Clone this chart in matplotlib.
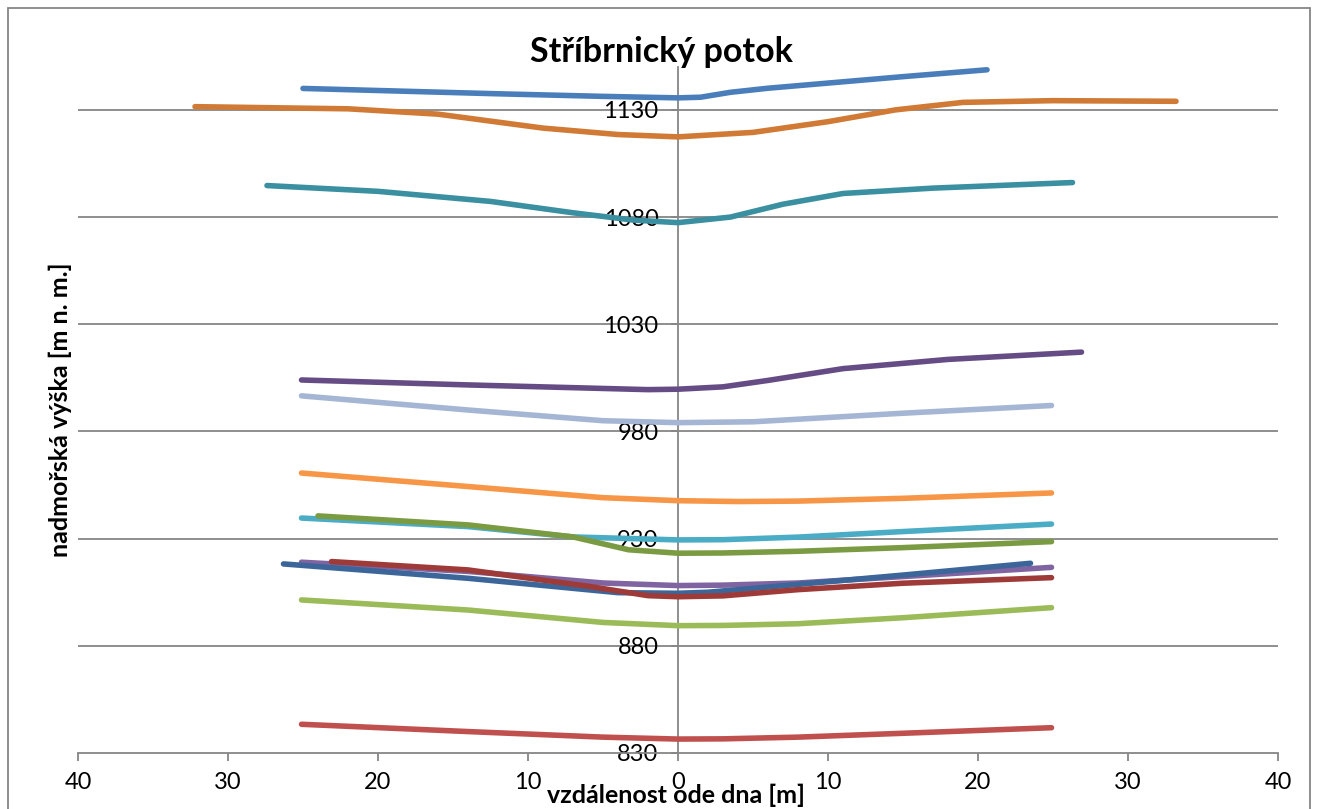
import matplotlib
matplotlib.use("Agg")
import matplotlib.pyplot as plt
from matplotlib.patches import Rectangle
from matplotlib.ticker import FuncFormatter

plt.rcParams['font.family'] = ['Lato', 'DejaVu Sans']

# cross-section profiles: distance from stream bed [m] vs elevation [m a.s.l.]
x1 = [-25, -12, -5, 0, 1.5, 3.5, 6, 10, 15, 20.6]
y1 = [1140, 1137.5, 1136.3, 1135.6, 1135.9, 1138.2, 1140.1, 1142.5, 1145.5, 1148.7]

x2 = [-25.1, -14, -5, 0, 3, 8, 15, 24.9]
y2 = [843.4, 840, 837.4, 836.5, 836.6, 837.4, 839.2, 841.8]

x3 = [-25.1, -14, -5, 0, 3, 8, 15, 24.9]
y3 = [901.4, 896.7, 890.9, 889.4, 889.5, 890.3, 893.1, 897.8]

x4 = [-25.1, -14, -5, 0, 3, 8, 15, 24.9]
y4 = [919, 914.7, 909.3, 908.1, 908.3, 909.3, 912.3, 916.6]

x5 = [-25.1, -14, -7, 0, 3, 8, 15, 24.9]
y5 = [939.6, 935.6, 930.8, 929.4, 929.5, 930.7, 933.3, 936.8]

x6 = [-25.1, -14, -5, 0, 4, 8, 15, 24.9]
y6 = [960.6, 954.3, 949.1, 947.7, 947.3, 947.5, 948.8, 951.3]

x7 = [-26.3, -14, -4, 0, 2, 5, 15, 23.5]
y7 = [918.2, 911.5, 904.8, 904.5, 905, 906.8, 913, 918.5]

x8 = [-23.1, -14, -6, -2, 0, 3, 8, 15, 24.9]
y8 = [919.3, 915.4, 907.8, 903.4, 902.9, 903.3, 906.2, 909.2, 911.8]

x9 = [-24, -14, -7, -3.3, 0, 3, 8, 15, 24.9]
y9 = [940.6, 936.4, 930.8, 924.8, 923.2, 923.3, 924.1, 925.8, 928.6]

x10 = [-25.1, -14, -2, 0, 3, 6, 11, 18, 26.9]
y10 = [1004, 1001.7, 999.5, 999.7, 1000.8, 1003.8, 1009.3, 1013.6, 1017]

x11 = [-27.4, -20, -12.5, -7, -3, 0, 3.5, 7, 11, 17, 26.3]
y11 = [1094.7, 1092, 1087.3, 1082, 1078.6, 1077.4, 1080, 1086, 1091, 1093.5, 1096.1]

x12 = [-32.2, -22, -16, -9, -4, 0, 5, 10, 14.5, 19, 25, 33.2]
y12 = [1131.5, 1130.5, 1128, 1121.5, 1118.5, 1117.4, 1119.5, 1124.5, 1130, 1133.5, 1134.3, 1134]

x13 = [-25.1, -14, -5, 0, 5, 15, 24.9]
y13 = [996.6, 990, 985, 984.1, 984.5, 988.5, 992.1]

series = [(x1, y1), (x2, y2), (x3, y3), (x4, y4), (x5, y5), (x6, y6), (x7, y7),
          (x8, y8), (x9, y9), (x10, y10), (x11, y11), (x12, y12), (x13, y13)]
colors = ['#4A7EBB', '#C0504D', '#9BBB59', '#8064A2', '#4BACC6', '#F79646',
          '#3C6699', '#9E3B38', '#7B9B43', '#664C84', '#3A8FA1', '#D07A35', '#A5B6D4']

yticks = [830, 880, 930, 980, 1030, 1080, 1130]
xticks = [-40, -30, -20, -10, 0, 10, 20, 30, 40]

fig = plt.figure(figsize=(13.18, 8.09), dpi=100)
ax = fig.add_axes([78 / 1318, 1 - 753 / 809, 1200 / 1318, (753 - 67) / 809])

for (xs, ys), c in zip(series, colors):
    ax.plot(xs, ys, color=c, lw=4, solid_capstyle='round', solid_joinstyle='round')

grid = '#868686'
ax.set_xlim(-40, 40)
ax.set_ylim(830, 1150)
ax.set_xticks(xticks)
ax.set_yticks(yticks)
ax.xaxis.set_major_formatter(FuncFormatter(lambda v, p: f"{abs(int(v))}"))
for y in yticks[1:]:
    ax.axhline(y, color=grid, lw=1.3, zorder=0)

for s in ['top', 'right']:
    ax.spines[s].set_visible(False)
ax.spines['left'].set_position(('data', 0))
ax.spines['left'].set_color(grid)
ax.spines['left'].set_linewidth(1.3)
ax.spines['left'].set_zorder(0)
ax.spines['bottom'].set_color(grid)
ax.spines['bottom'].set_linewidth(1.3)
ax.tick_params(axis='x', direction='out', length=6, width=1.3, color=grid, pad=8, labelsize=17)
ax.tick_params(axis='y', direction='out', length=5, width=1.3, color=grid, pad=9, labelsize=17)

fig.text(661 / 1318, 1 - 52 / 809, "Stříbrnický potok", ha='center', va='center',
         fontsize=24.5, fontweight='bold')
fig.text(676 / 1318, 1 - 795 / 809, "vzdálenost ode dna [m]", ha='center', va='center',
         fontsize=18, fontweight='bold')
fig.text(60 / 1318, 1 - 410 / 809, "nadmořská výška [m n. m.]", ha='center', va='center',
         rotation=90, fontsize=18, fontweight='bold')

fig.patches.append(Rectangle((8 / 1318, -0.05), 1302 / 1318, 1.05 - 8 / 809,
                             transform=fig.transFigure, fill=False, ec=grid, lw=1.3))

fig.savefig("out.png", dpi=100)
